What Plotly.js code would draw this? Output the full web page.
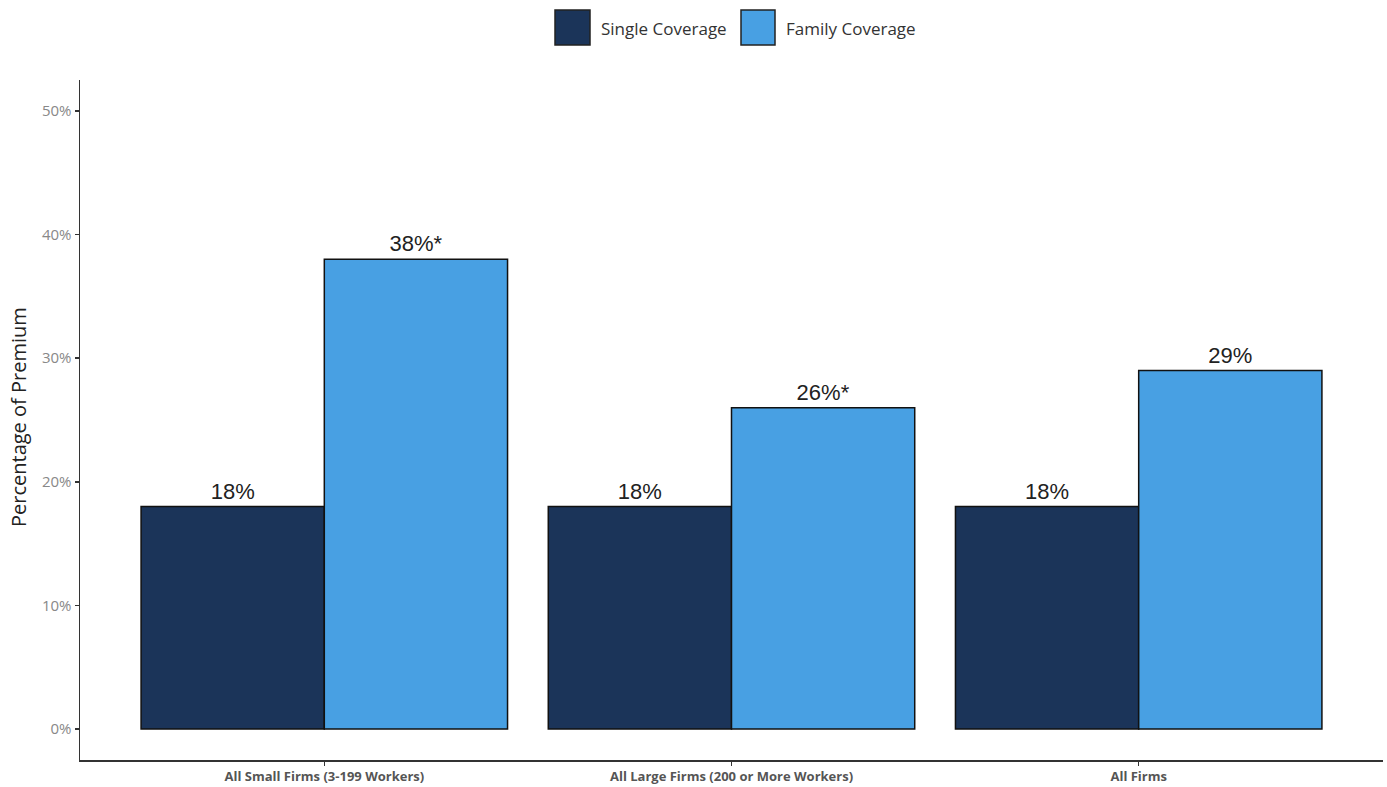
<!DOCTYPE html>
<html>
<head>
<meta charset="utf-8">
<script src="https://cdn.plot.ly/plotly-3.0.1.min.js"></script>
<style>html,body{margin:0;padding:0;background:#fff;}#chart{width:1387px;height:787px;}</style>
</head>
<body>
<div id="chart"></div>
<script>
const categories = ["All Small Firms (3-199 Workers)", "All Large Firms (200 or More Workers)", "All Firms"];
const seriesNames = ["Single Coverage", "Family Coverage"];
const singleValues = [18, 18, 18];
const familyValues = [38, 26, 29];
const singleLabels = ["18%", "18%", "18%"];
const familyLabels = ["38%*", "26%*", "29%"];
const yTickVals = [0, 10, 20, 30, 40, 50];
const yTickText = ["0%", "10%", "20%", "30%", "40%", "50%"];
const yAxisTitle = "Percentage of Premium";

const colors = ["#1b3459", "#48a0e3"];
const textFont = {family: "Liberation Sans, Arial, sans-serif", size: 22, color: "#222"};

const traces = [
  {
    type: "bar", name: seriesNames[0], x: categories, y: singleValues,
    text: singleLabels, textposition: "outside", textfont: textFont, cliponaxis: false,
    marker: {color: colors[0], line: {color: "#111", width: 1.5}},
    hoverinfo: "none", showlegend: false
  },
  {
    type: "bar", name: seriesNames[1], x: categories, y: familyValues,
    text: familyLabels, textposition: "outside", textfont: textFont, cliponaxis: false,
    marker: {color: colors[1], line: {color: "#111", width: 1.5}},
    hoverinfo: "none", showlegend: false
  }
];

// Custom legend (large swatches like the original)
const legendBoxes = [[-176.5, -141.5], [9.5, 43.5]];
const legendTextShift = [-132.5, 52.5];
const shapes = legendBoxes.map(function (b, i) {
  return {
    type: "rect", xref: "paper", yref: "paper", xsizemode: "pixel", ysizemode: "pixel",
    xanchor: 0.5, yanchor: 1, x0: b[0], x1: b[1], y0: 35, y1: 70,
    fillcolor: colors[i], line: {color: "#222", width: 1.5}
  };
});
const annotations = seriesNames.map(function (n, i) {
  return {
    text: n, xref: "paper", yref: "paper", x: 0.5, y: 1, xshift: legendTextShift[i], yshift: 52,
    xanchor: "left", yanchor: "middle", showarrow: false,
    font: {family: "Open Sans, sans-serif", size: 17, color: "#333"}
  };
});
annotations.push({
  text: yAxisTitle, xref: "paper", yref: "paper", x: 0, y: 0.5, xshift: -62, yshift: 3,
  xanchor: "center", yanchor: "middle", textangle: -90, showarrow: false,
  font: {family: "Open Sans, sans-serif", size: 20, color: "#222"}
});

const layout = {
  width: 1387, height: 787,
  margin: {l: 80, r: 4, t: 80, b: 27},
  paper_bgcolor: "#fff", plot_bgcolor: "#fff",
  barmode: "group", bargap: 0.1, bargroupgap: 0,
  showlegend: false,
  shapes: shapes,
  annotations: annotations,
  xaxis: {
    type: "category", range: [-0.6, 2.6], showline: true, linecolor: "#333", linewidth: 1.5,
    ticks: "outside", ticklen: 4, tickcolor: "#333", tickwidth: 1.5,
    tickfont: {family: "Open Sans, sans-serif", size: 13, color: "#555", weight: "bold"},
    showgrid: false, zeroline: false, fixedrange: true
  },
  yaxis: {
    range: [-2.5, 52.5], tickvals: yTickVals, ticktext: yTickText,
    showline: true, linecolor: "#333", linewidth: 1.5,
    ticks: "outside", ticklen: 4, tickcolor: "#333", tickwidth: 1.5,
    tickfont: {family: "Open Sans, sans-serif", size: 15, color: "#888"},
    showgrid: false, zeroline: false, fixedrange: true
  }
};

Plotly.newPlot("chart", traces, layout, {displayModeBar: false, staticPlot: true});
</script>
</body>
</html>
